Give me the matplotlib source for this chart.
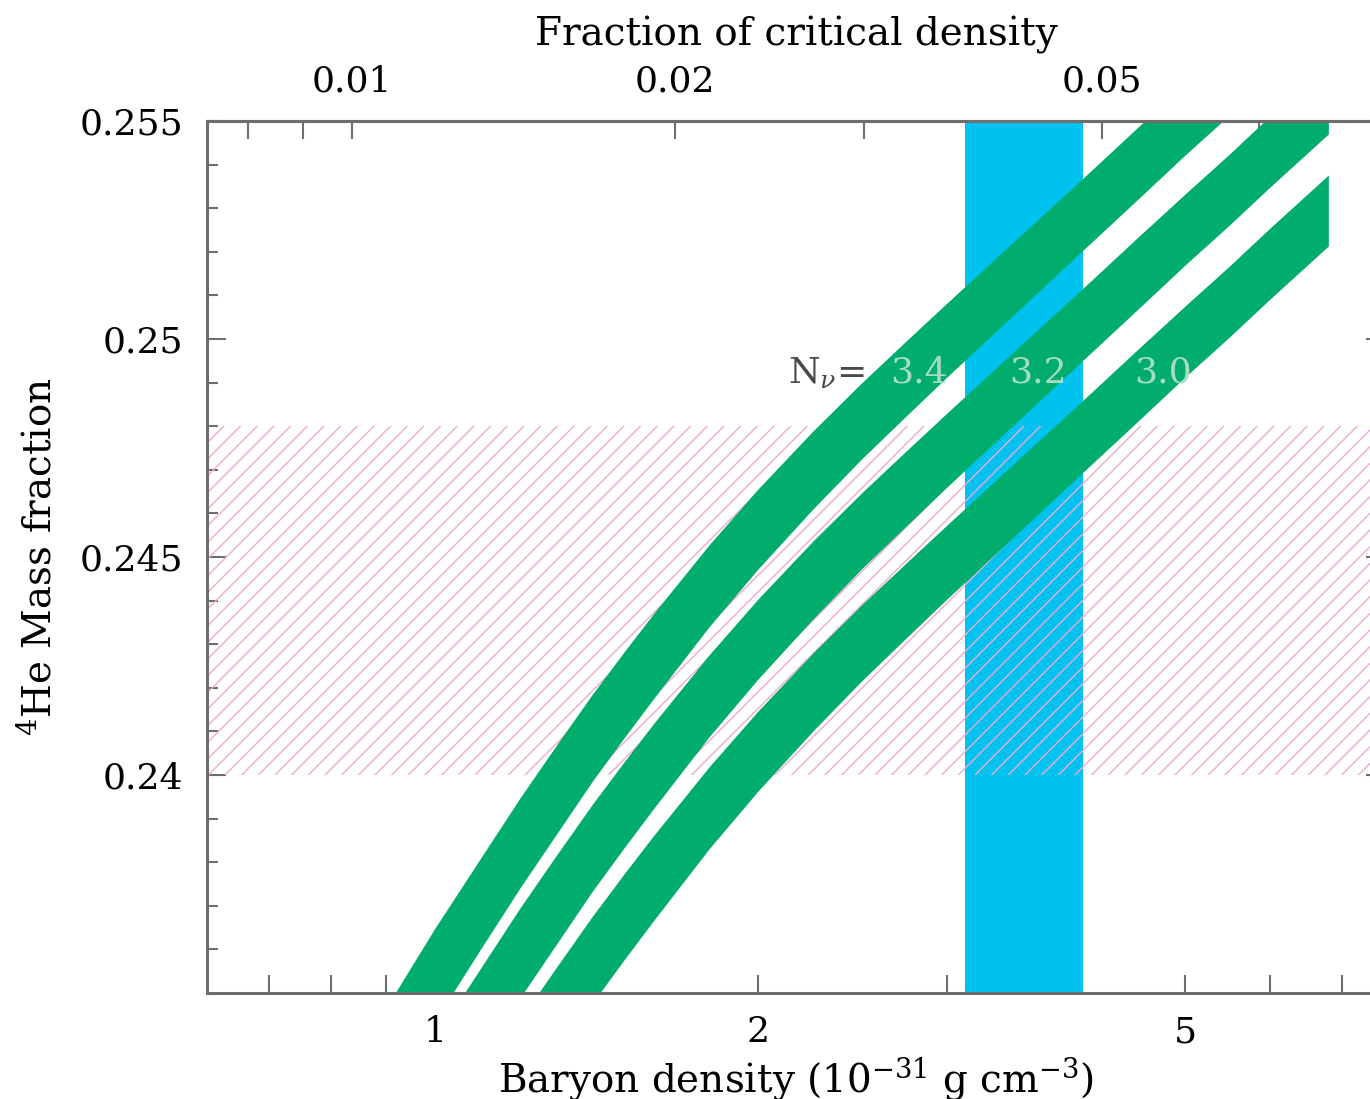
import matplotlib
matplotlib.use('Agg')
import matplotlib.pyplot as plt
from matplotlib.ticker import FixedLocator, NullFormatter, FixedFormatter

plt.rcParams['font.family'] = ['DejaVu Serif']
plt.rcParams['mathtext.fontset'] = 'dejavuserif'
plt.rcParams['hatch.linewidth'] = 1.0

# ---- data ----
density_34 = [0.9, 1.0, 1.1, 1.2, 1.3, 1.4, 1.5, 1.6, 1.8, 2.0, 2.25, 2.5, 2.75,
              3.0, 3.5, 4.0, 4.5, 5.0, 5.5, 6.0]
he_34_high = [0.234656, 0.236491, 0.238051, 0.239473, 0.240711, 0.241835, 0.242821,
              0.243716, 0.245275, 0.246560, 0.247890, 0.249003, 0.249961, 0.250826,
              0.252340, 0.253647, 0.254817, 0.255849, 0.256766, 0.257638]
he_34_low = [0.232500, 0.234358, 0.235964, 0.237409, 0.238670, 0.239840, 0.240849,
             0.241766, 0.243395, 0.244725, 0.246101, 0.247259, 0.248241, 0.249129,
             0.250665, 0.251996, 0.253165, 0.254220, 0.255138, 0.256009]

density_32 = [1.0, 1.1, 1.2, 1.3, 1.4, 1.5, 1.6, 1.8, 2.0, 2.25, 2.5, 2.75,
              3.0, 3.5, 4.0, 4.5, 5.0, 5.5, 6.0, 6.8]
he_32_high = [0.233968, 0.235528, 0.236950, 0.238188, 0.239312, 0.240298, 0.241193,
              0.242752, 0.244037, 0.245367, 0.246480, 0.247438, 0.248303, 0.249817,
              0.251124, 0.252294, 0.253326, 0.254243, 0.255115, 0.256330]
he_32_low = [0.231835, 0.233441, 0.234886, 0.236147, 0.237317, 0.238326, 0.239243,
             0.240872, 0.242202, 0.243578, 0.244736, 0.245718, 0.246606, 0.248142,
             0.249473, 0.250642, 0.251697, 0.252615, 0.253486, 0.254702]

density_30 = [1.1, 1.2, 1.3, 1.4, 1.5, 1.6, 1.8, 2.0, 2.25, 2.5, 2.75,
              3.0, 3.5, 4.0, 4.5, 5.0, 5.5, 6.0, 6.8]
he_30_high = [0.232959, 0.234381, 0.235619, 0.236743, 0.237729, 0.238624, 0.240183,
              0.241468, 0.242798, 0.243911, 0.244869, 0.245734, 0.247248, 0.248555,
              0.249725, 0.250757, 0.251674, 0.252546, 0.253761]
he_30_low = [0.230872, 0.232317, 0.233578, 0.234748, 0.235757, 0.236674, 0.238303,
             0.239633, 0.241009, 0.242167, 0.243149, 0.244037, 0.245573, 0.246904,
             0.248073, 0.249128, 0.250046, 0.250917, 0.252133]

band_labels = ['3.4', '3.2', '3.0']
baryon_band = [3.12, 4.02]          # 10^-31 g cm^-3
he_observed = [0.240, 0.248]        # 4He mass fraction
density_per_fraction = 83.7         # density for Omega_b = 1

x_major = [1, 2, 5]
x_minor = [0.7, 0.8, 0.9, 3, 4, 6, 7]
y_major = [0.24, 0.245, 0.25, 0.255]
y_major_labels = ['0.24', '0.245', '0.25', '0.255']
y_minor = [0.236, 0.237, 0.238, 0.239, 0.241, 0.242, 0.243, 0.244,
           0.246, 0.247, 0.248, 0.249, 0.251, 0.252, 0.253, 0.254]
top_major = [0.01, 0.02, 0.05]
top_major_labels = ['0.01', '0.02', '0.05']
top_minor = [0.008, 0.009, 0.03, 0.04, 0.06, 0.07, 0.08]

# ---- styling ----
green = '#00ad6c'
blue = '#00c2ee'
pink = '#eeaad4'
spine_col = '#6e6e6e'
fs_tick = 26
fs_lab = 28

fig = plt.figure(figsize=(13.7, 10.99), dpi=100)
ax = fig.add_axes([0.1511, 0.0965, 0.8599, 0.7934])
ax.set_xscale('log')
ax.set_xlim(0.6131, 7.68)
ax.set_ylim(0.235, 0.255)
ax.set_axisbelow(True)

ax.axvspan(baryon_band[0], baryon_band[1], color=blue, lw=0, zorder=1)
ax.axhspan(he_observed[0], he_observed[1], facecolor='none', edgecolor=pink,
           hatch='//', lw=0, zorder=1.5)

for xs, lo, hi in [(density_34, he_34_low, he_34_high),
                   (density_32, he_32_low, he_32_high),
                   (density_30, he_30_low, he_30_high)]:
    ax.fill_between(xs, lo, hi, color=green, lw=0, zorder=2)

# N_nu labels
ax.text(2.515, 0.24922, r'N$_\nu$=', ha='right', va='center', fontsize=fs_tick,
        color='#4a4a4a', zorder=3)
for xpos, lab in zip([2.825, 3.648, 4.77], band_labels):
    ax.text(xpos, 0.24922, lab, ha='center', va='center', fontsize=fs_tick,
            color='#a6dcc2', zorder=3)

# ticks
ax.xaxis.set_major_locator(FixedLocator(x_major))
ax.xaxis.set_major_formatter(FixedFormatter([str(v) for v in x_major]))
ax.xaxis.set_minor_locator(FixedLocator(x_minor))
ax.xaxis.set_minor_formatter(NullFormatter())
ax.yaxis.set_major_locator(FixedLocator(y_major))
ax.yaxis.set_major_formatter(FixedFormatter(y_major_labels))
ax.yaxis.set_minor_locator(FixedLocator(y_minor))
ax.tick_params(axis='both', which='both', direction='in', color=spine_col,
               labelsize=fs_tick, width=1.5)
ax.tick_params(axis='x', which='both', bottom=True, top=False, length=13, pad=16)
ax.tick_params(axis='y', which='major', left=True, right=True, length=14, pad=17)
ax.tick_params(axis='y', which='minor', left=True, right=True, length=8)

for s in ax.spines.values():
    s.set_color(spine_col)
    s.set_linewidth(2.2)
    s.set_zorder(4)

ax.set_xlabel(r'Baryon density (10$^{-31}$ g cm$^{-3}$)', fontsize=fs_lab, labelpad=4)
ax.set_ylabel(r'$^4$He Mass fraction', fontsize=fs_lab, labelpad=15)

sec = ax.secondary_xaxis('top', functions=(lambda d: d / density_per_fraction,
                                           lambda f: f * density_per_fraction))
sec.xaxis.set_major_locator(FixedLocator(top_major))
sec.xaxis.set_major_formatter(FixedFormatter(top_major_labels))
sec.xaxis.set_minor_locator(FixedLocator(top_minor))
sec.xaxis.set_minor_formatter(NullFormatter())
sec.tick_params(axis='x', which='both', direction='in', color=spine_col,
                labelsize=fs_tick, length=13, width=1.5, pad=16)
sec.spines['top'].set_color(spine_col)
sec.spines['top'].set_linewidth(2.2)
sec.set_xlabel('Fraction of critical density', fontsize=fs_lab, labelpad=14)

fig.savefig('out.png', dpi=100)
